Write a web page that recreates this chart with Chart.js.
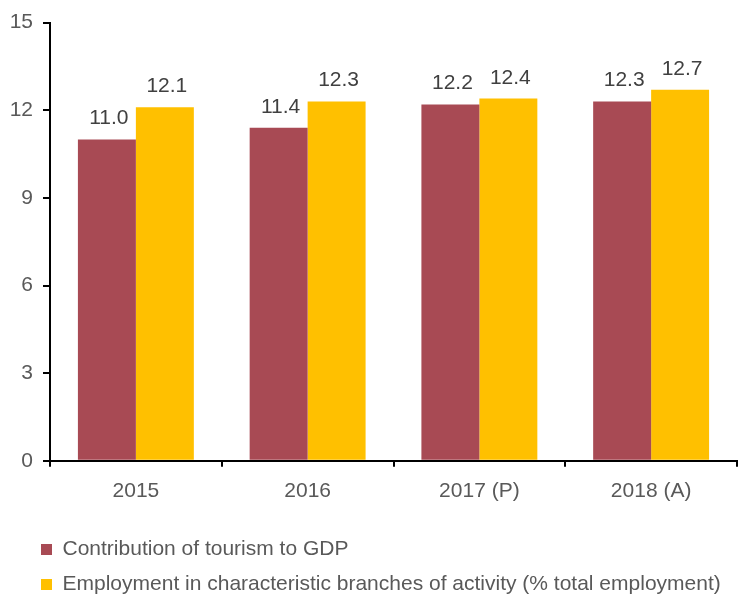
<!DOCTYPE html>
<html>
<head>
<meta charset="utf-8">
<script src="https://cdn.jsdelivr.net/npm/chart.js@4"></script>
<style>
  html, body { margin: 0; padding: 0; background: #fff; }
  #wrap { width: 738px; height: 599px; }
</style>
</head>
<body>
<div id="wrap"><canvas id="chart"></canvas></div>
<script>
const categories = ['2015', '2016', '2017 (P)', '2018 (A)'];
const tourismGdp = [11.0, 11.4, 12.2, 12.3];
const employment = [12.1, 12.3, 12.4, 12.7];
const yTicks = [0, 3, 6, 9, 12, 15];

const FONT = 'Liberation Sans, Arial, sans-serif';
const FONT_SIZE = 21;

// Value labels above each bar
const valueLabels = {
  id: 'valueLabels',
  afterDatasetsDraw(chart) {
    const { ctx } = chart;
    ctx.save();
    ctx.font = `${FONT_SIZE}px ${FONT}`;
    ctx.fillStyle = '#404040';
    ctx.textAlign = 'center';
    ctx.textBaseline = 'alphabetic';
    chart.data.datasets.forEach((ds, i) => {
      chart.getDatasetMeta(i).data.forEach((bar, j) => {
        ctx.fillText(ds.data[j].toFixed(1), bar.x + 2, bar.y - 15);
      });
    });
    ctx.restore();
  },
};

// Nudge the legend so it lines up under the axis like the original
const legendShift = {
  id: 'legendShift',
  afterLayout(chart) {
    chart.legend.left = 27;
    chart.legend.top += 6;
  },
};

new Chart(document.getElementById('chart').getContext('2d'), {
  type: 'bar',
  data: {
    labels: categories,
    datasets: [
      { label: 'Contribution of tourism to GDP', data: tourismGdp, backgroundColor: '#A84A54' },
      { label: 'Employment in characteristic branches of activity (% total employment)', data: employment, backgroundColor: '#FFC000' },
    ],
  },
  options: {
    responsive: true,
    maintainAspectRatio: false,
    animation: false,
    categoryPercentage: 0.675,
    barPercentage: 1,
    layout: { padding: { top: 10, right: 1, left: 0, bottom: 0 } },
    plugins: {
      tooltip: { enabled: false },
      legend: {
        position: 'bottom',
        align: 'start',
        labels: {
          boxWidth: 11,
          boxHeight: 11,
          padding: 14,
          color: '#595959',
          font: { family: FONT, size: FONT_SIZE },
        },
      },
    },
    scales: {
      x: {
        afterFit: (axis) => { axis.height += 3; },
        grid: { display: true, offset: true, drawOnChartArea: false, drawTicks: true, tickLength: 6, color: '#000', lineWidth: 2 },
        border: { color: '#000', width: 2 },
        ticks: { color: '#595959', font: { family: FONT, size: FONT_SIZE }, padding: 12 },
      },
      y: {
        min: 0,
        max: 15,
        afterBuildTicks: (axis) => { axis.ticks = yTicks.map(v => ({ value: v })); },
        afterFit: (axis) => { axis.width = 50; },
        grid: { display: true, drawOnChartArea: false, drawTicks: true, tickLength: 7, color: '#000', lineWidth: 2 },
        border: { color: '#000', width: 2 },
        ticks: { color: '#595959', font: { family: FONT, size: FONT_SIZE }, padding: 10 },
      },
    },
  },
  plugins: [valueLabels, legendShift],
});
</script>
</body>
</html>
